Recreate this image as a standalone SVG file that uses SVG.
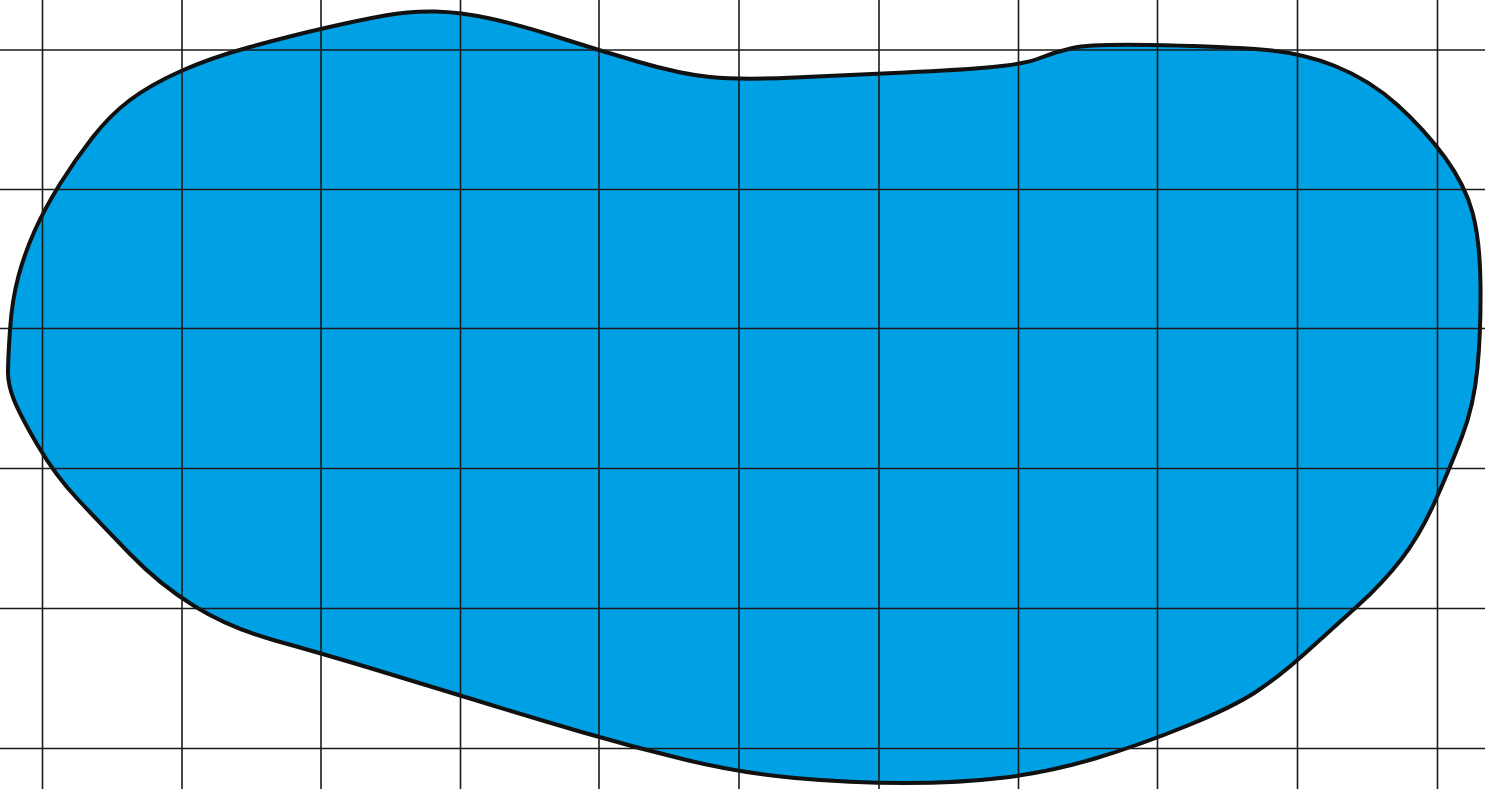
<svg xmlns="http://www.w3.org/2000/svg" width="1485" height="789" viewBox="0 0 1485 789">
<style>
.blob{fill:#00a1e4;stroke:#111;stroke-width:4;stroke-linejoin:round}
.grid line{stroke:#1a1a1a;stroke-width:1.6}
</style>
<rect width="1485" height="789" fill="#fff"/>
<g id="blob">
<path class="blob" d="M8,372.5 Q8,360 10,330 Q12,300 18.5,276 Q25,252 35,230 Q45,208 60,184 Q75,160 92.5,137.5 Q110,115 130,100 Q150,85 180,71.5 Q210,58 250,47 Q290,36 325,28 Q360,20 385,15.5 Q410,11 435,11.5 Q460,12 490,18.5 Q520,25 559,37.5 Q598,50 639,62 Q680,74 710,77 Q740,80 795,77.5 Q850,75 905,72.5 Q960,70 992.5,67 Q1025,64 1040,58 Q1055,52 1072.5,48 Q1090,44 1150,45 Q1210,46 1255,49 Q1300,52 1335,66 Q1370,80 1397.5,105 Q1425,130 1445,157.5 Q1465,185 1472.5,212.5 Q1480,240 1480.5,285 Q1481,330 1477.5,367.5 Q1474,405 1462,436.5 Q1450,468 1435,501.5 Q1420,535 1401.5,559 Q1383,583 1358,605.5 Q1333,628 1306.5,652 Q1280,676 1256.5,691.5 Q1233,707 1186.5,726 Q1140,745 1095,758.5 Q1050,772 1005,777.5 Q960,783 905,783 Q850,783 795,778 Q740,773 686.5,760 Q633,747 581.5,732 Q530,717 475,700 Q420,683 370,668 Q320,653 275,640.5 Q230,628 195,606.5 Q160,585 130,554 Q100,523 77.5,499 Q55,475 37.5,445 Q20,415 14,400 Q8,385 8,372.5 Z"/>
</g>
<g id="grid" class="grid">
<line x1="42.5" y1="0" x2="42.5" y2="789"/>
<line x1="182" y1="0" x2="182" y2="789"/>
<line x1="321" y1="0" x2="321" y2="789"/>
<line x1="460.5" y1="0" x2="460.5" y2="789"/>
<line x1="599" y1="0" x2="599" y2="789"/>
<line x1="739" y1="0" x2="739" y2="789"/>
<line x1="879" y1="0" x2="879" y2="789"/>
<line x1="1018.5" y1="0" x2="1018.5" y2="789"/>
<line x1="1157.5" y1="0" x2="1157.5" y2="789"/>
<line x1="1297.5" y1="0" x2="1297.5" y2="789"/>
<line x1="1437.5" y1="0" x2="1437.5" y2="789"/>
<line x1="0" y1="50" x2="1485" y2="50"/>
<line x1="0" y1="189.5" x2="1485" y2="189.5"/>
<line x1="0" y1="328.5" x2="1485" y2="328.5"/>
<line x1="0" y1="468.5" x2="1485" y2="468.5"/>
<line x1="0" y1="608.5" x2="1485" y2="608.5"/>
<line x1="0" y1="748.5" x2="1485" y2="748.5"/>
</g>
</svg>
